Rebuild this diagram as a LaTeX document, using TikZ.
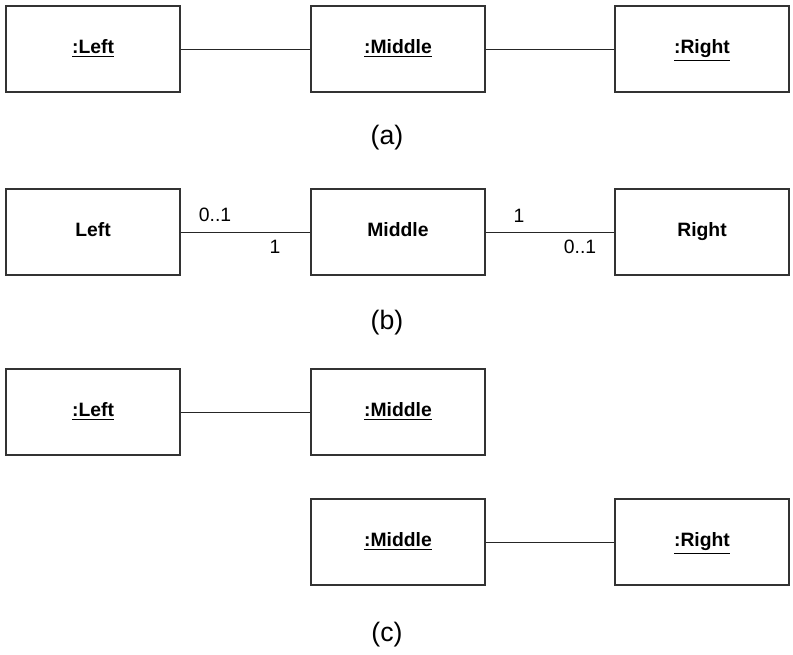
\documentclass[tikz,border=0pt]{standalone}
\usepackage{fontspec}
\setmainfont{Liberation Sans}
\usetikzlibrary{positioning}

\begin{document}
\begin{tikzpicture}[x=0.75pt, y=-0.75pt,
  obj/.style={draw=black!80, line width=0.8pt, minimum width=130.5pt, minimum height=64.5pt, inner sep=0pt, text height=10.5pt, text depth=3pt, font=\fontsize{14.5}{17}\selectfont\bfseries},
  link/.style={draw=black!85, line width=0.7pt},
  mult/.style={font=\fontsize{14.5}{17}\selectfont},
  caption/.style={font=\fontsize{20}{24}\selectfont}
]
\useasboundingbox (0,0) rectangle (793,655);
\def\xl{93}
\def\xm{398}
\def\xr{702}

% (a) object diagram
\node[obj] (La) at (\xl,49) {\underline{:Left}};
\node[obj] (Ma) at (\xm,49) {\underline{:Middle}};
\node[obj] (Ra) at (\xr,49) {\underline{:Right}};
\draw[link] (La) -- (Ma);
\draw[link] (Ma) -- (Ra);
\node[caption] (capA) at (387,138) {(a)};

% (b) class diagram
\node[obj] (Lb) at (\xl,232) {Left};
\node[obj] (Mb) at (\xm,232) {Middle};
\node[obj] (Rb) at (\xr,232) {Right};
\draw[link] (Lb) -- (Mb);
\draw[link] (Mb) -- (Rb);
\node[mult] at (215,215) {0..1};
\node[mult] at (275,247) {1};
\node[mult] at (519,216) {1};
\node[mult] at (580,247) {0..1};
\node[caption] (capB) at (387,323) {(b)};

% (c) split object diagram
\node[obj] (Lc) at (\xl,412) {\underline{:Left}};
\node[obj] (Mc) at (\xm,412) {\underline{:Middle}};
\node[obj] (Md) at (\xm,542) {\underline{:Middle}};
\node[obj] (Rc) at (\xr,542) {\underline{:Right}};
\draw[link] (Lc) -- (Mc);
\draw[link] (Md) -- (Rc);
\node[caption] (capC) at (387,635) {(c)};

\end{tikzpicture}
\end{document}
